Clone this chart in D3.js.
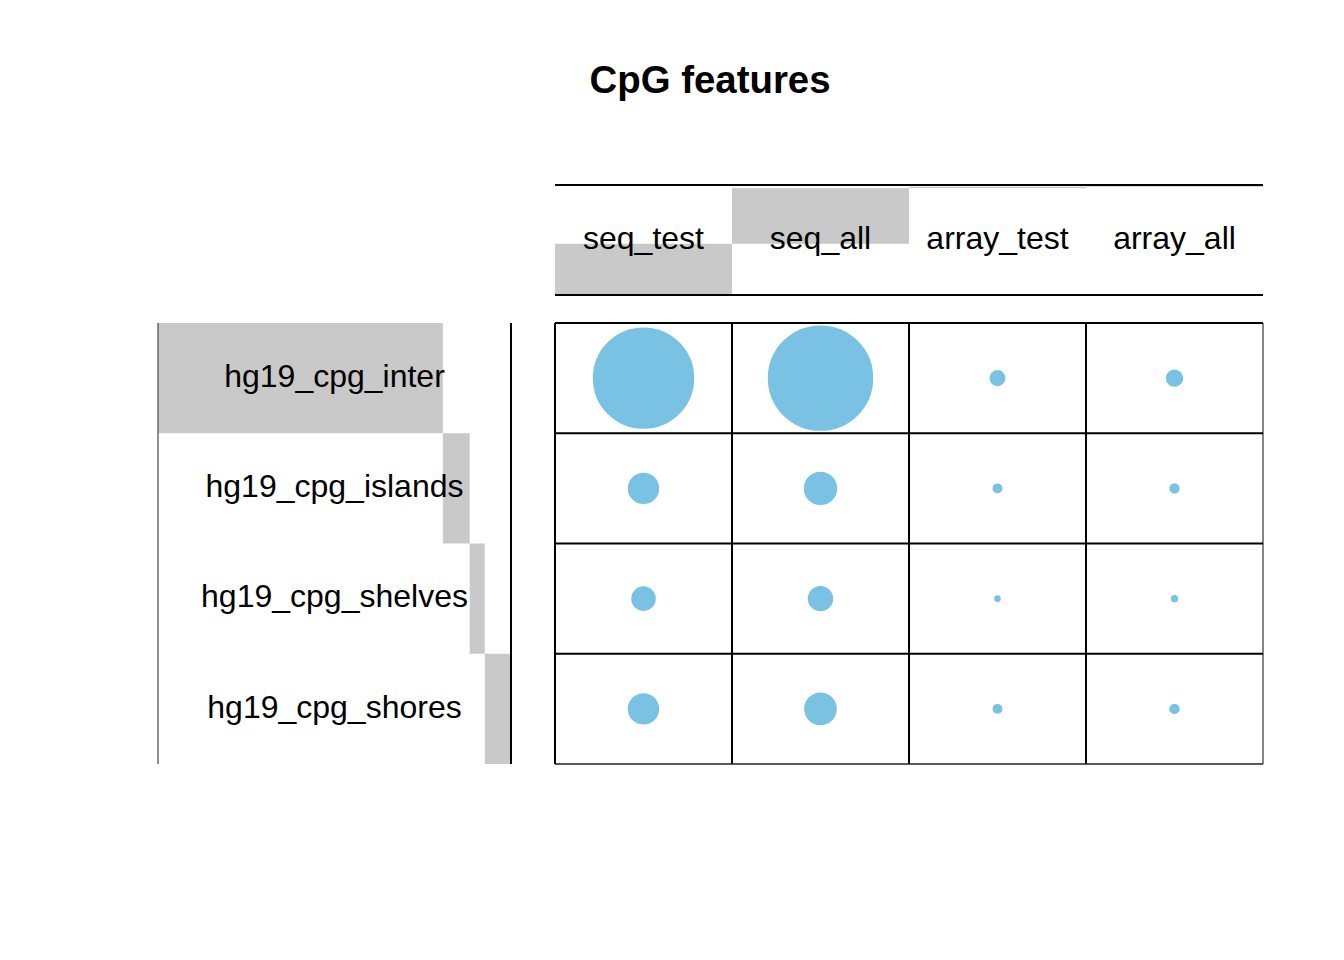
<!DOCTYPE html>
<html>
<head>
<meta charset="utf-8">
<script src="https://cdn.jsdelivr.net/npm/d3@7"></script>
<style>
html,body{margin:0;padding:0;background:#fff;}
svg{display:block;}
text{font-family:"Liberation Sans",Arial,Helvetica,sans-serif;}
</style>
</head>
<body>
<svg id="chart" width="1344" height="960"></svg>
<script>
// ---- data ----
const title = "CpG features";
const columns = ["seq_test", "seq_all", "array_test", "array_all"];
const rows = ["hg19_cpg_inter", "hg19_cpg_islands", "hg19_cpg_shelves", "hg19_cpg_shores"];
// values per column, in row order
const seqTest   = [2518, 220, 130, 220];
const seqAll    = [2725, 251, 140, 239];
const arrayTest = [50, 16, 5.4, 16];
const arrayAll  = [60, 18, 7.4, 18];
const seriesValues = [seqTest, seqAll, arrayTest, arrayAll];

// ---- layout ----
const svg = d3.select("#chart");
const dotColor = "#79c2e4";
const barColor = "#c9c9c9";

const gridLeft = 555, gridRight = 1263, gridTop = 323, gridBottom = 764;
const headTop = 185, headBottom = 295;
const rowMarLeft = 158, rowMarRight = 511;

const x = d3.scaleBand().domain(columns).range([gridLeft, gridRight]);
const y = d3.scaleBand().domain(rows).range([gridTop, gridBottom]);

const cells = [];
columns.forEach((c, ci) => rows.forEach((r, ri) => cells.push({col: c, row: r, value: seriesValues[ci][ri]})));
const maxV = d3.max(cells, d => d.value);
const rScale = d3.scaleSqrt().domain([0, maxV]).range([0, 51.7]);

// row totals & col totals
const rowTotals = rows.map((r, ri) => d3.sum(seriesValues, s => s[ri]));
const colTotals = seriesValues.map(s => d3.sum(s));
const grand = d3.sum(rowTotals);

// ---- title ----
svg.append("text")
  .attr("x", 710).attr("y", 93)
  .attr("text-anchor", "middle")
  .attr("font-size", 38.4).attr("font-weight", "bold")
  .text(title);

// ---- column marginal bars (stacked upward) ----
const colScale = d3.scaleLinear().domain([0, grand]).range([headBottom, headTop]);
let cum = 0;
const colBars = colTotals.map((t, i) => { const o = {col: columns[i], start: cum, end: cum + t}; cum += t; return o; });
svg.append("g").selectAll("rect").data(colBars).join("rect")
  .attr("x", d => x(d.col)).attr("width", x.bandwidth())
  .attr("y", d => colScale(d.end)).attr("height", d => colScale(d.start) - colScale(d.end))
  .attr("fill", barColor);

// header lines
svg.append("line").attr("x1", gridLeft).attr("x2", gridRight).attr("y1", headTop).attr("y2", headTop)
  .attr("stroke", "#000").attr("stroke-width", 2);
svg.append("line").attr("x1", gridLeft).attr("x2", gridRight).attr("y1", headBottom).attr("y2", headBottom)
  .attr("stroke", "#000").attr("stroke-width", 2);

// column labels
svg.append("g").selectAll("text").data(columns).join("text")
  .attr("x", d => x(d) + x.bandwidth() / 2)
  .attr("y", (headTop + headBottom) / 2)
  .attr("dy", "0.27em")
  .attr("text-anchor", "middle")
  .attr("font-size", 32)
  .text(d => d);

// ---- row marginal bars (stacked rightward) ----
const rowScale = d3.scaleLinear().domain([0, grand]).range([rowMarLeft, rowMarRight]);
cum = 0;
const rowBars = rowTotals.map((t, i) => { const o = {row: rows[i], start: cum, end: cum + t}; cum += t; return o; });
svg.append("g").selectAll("rect").data(rowBars).join("rect")
  .attr("y", d => y(d.row)).attr("height", y.bandwidth())
  .attr("x", d => rowScale(d.start)).attr("width", d => rowScale(d.end) - rowScale(d.start))
  .attr("fill", barColor);

svg.append("line").attr("x1", rowMarLeft).attr("x2", rowMarLeft).attr("y1", gridTop).attr("y2", gridBottom)
  .attr("stroke", "#555").attr("stroke-width", 1.3);
svg.append("line").attr("x1", rowMarRight).attr("x2", rowMarRight).attr("y1", gridTop).attr("y2", gridBottom)
  .attr("stroke", "#000").attr("stroke-width", 2);

// row labels
svg.append("g").selectAll("text").data(rows).join("text")
  .attr("x", (rowMarLeft + rowMarRight) / 2)
  .attr("y", d => y(d) + y.bandwidth() / 2)
  .attr("dy", "0.27em")
  .attr("text-anchor", "middle")
  .attr("font-size", 32)
  .text(d => d);

// ---- grid ----
const grid = svg.append("g").attr("stroke", "#000").attr("stroke-width", 2);
columns.forEach(c => grid.append("line").attr("x1", x(c)).attr("x2", x(c)).attr("y1", gridTop).attr("y2", gridBottom));
grid.append("line").attr("x1", gridRight).attr("x2", gridRight).attr("y1", gridTop).attr("y2", gridBottom)
  .attr("stroke", "#444").attr("stroke-width", 1.3);
rows.forEach(r => grid.append("line").attr("x1", gridLeft).attr("x2", gridRight).attr("y1", y(r)).attr("y2", y(r)));
grid.append("line").attr("x1", gridLeft).attr("x2", gridRight).attr("y1", gridBottom).attr("y2", gridBottom)
  .attr("stroke", "#222").attr("stroke-width", 1.6);

// ---- balloons ----
svg.append("g").selectAll("circle").data(cells).join("circle")
  .attr("cx", d => x(d.col) + x.bandwidth() / 2)
  .attr("cy", d => y(d.row) + y.bandwidth() / 2)
  .attr("r", d => rScale(d.value))
  .attr("fill", dotColor)
  .attr("stroke", dotColor).attr("stroke-width", 2);
</script>
</body>
</html>
